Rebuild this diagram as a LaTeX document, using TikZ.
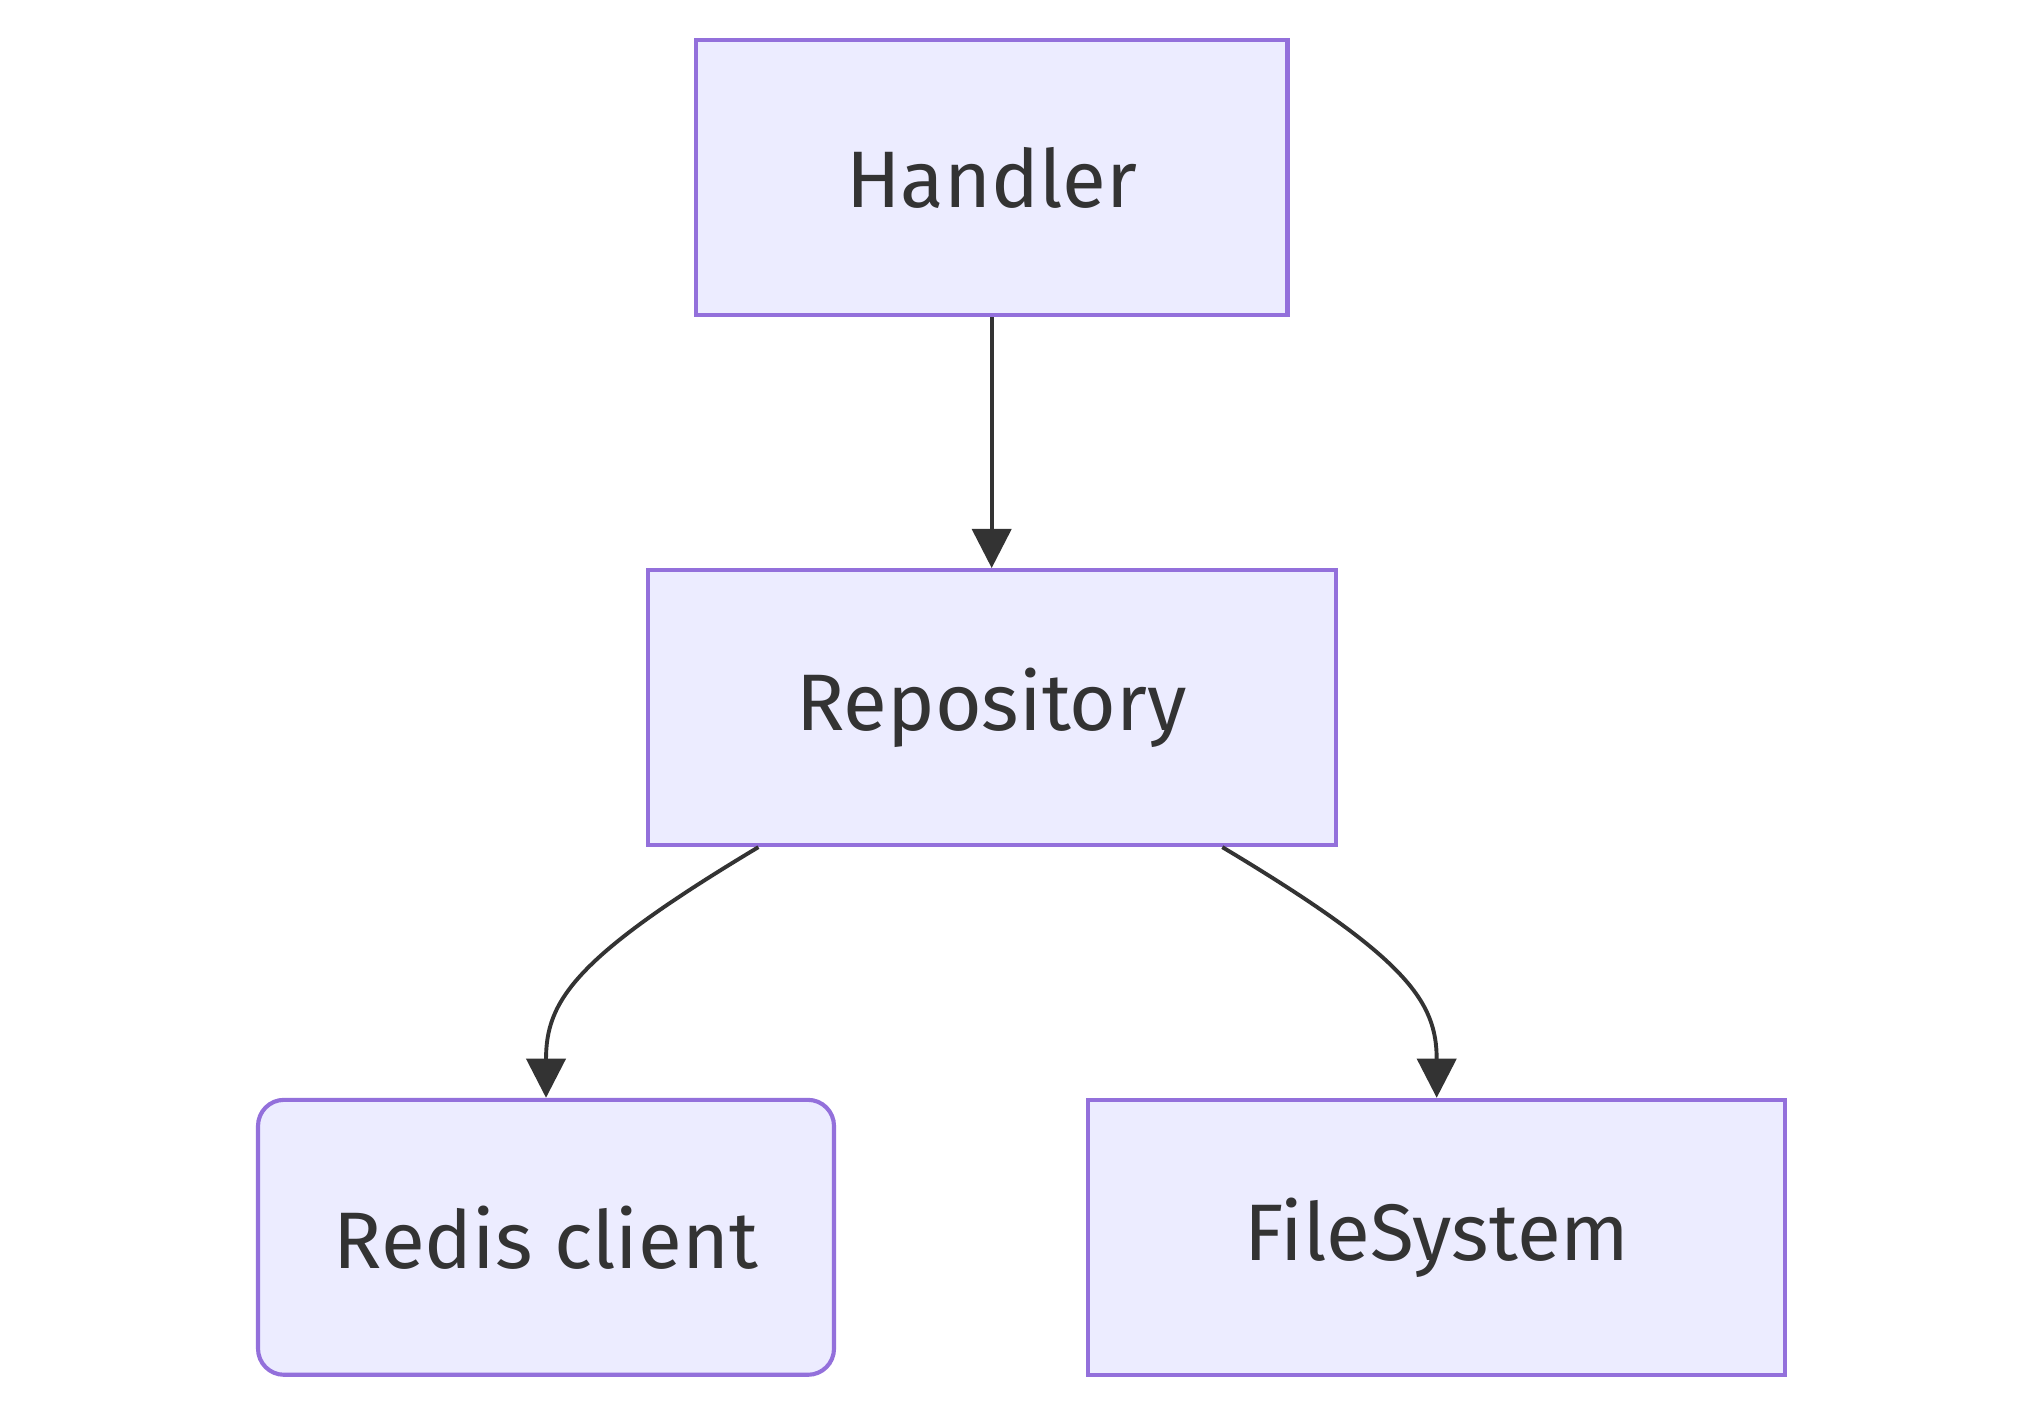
\documentclass[tikz,border=0pt]{standalone}
\usepackage{fontspec}
\setmainfont{Fira Sans}
\usetikzlibrary{arrows.meta}

\definecolor{boxfill}{HTML}{ECECFF}
\definecolor{boxline}{HTML}{9370DB}
\definecolor{edgeline}{HTML}{333333}
\definecolor{textgrey}{HTML}{333333}

\begin{document}
\begin{tikzpicture}[
        node distance=4.065cm,
        font=\fontsize{17.5}{21}\selectfont,
    ]
    \useasboundingbox (0,0) rectangle (15.67,-10.86);

    \tikzstyle{box} = [rectangle, minimum height=2.11cm, text centered,
                       draw=boxline, fill=boxfill, line width=0.9pt, text=textgrey]
    \tikzstyle{link} = [draw=edgeline, line width=0.85pt,
                        -{Triangle[length=0.3cm, width=0.3cm]}]
    % Nodes
    \node[box, minimum width=4.54cm] (handler) at (7.61,-1.365) {Handler};
    \node[box, minimum width=5.28cm, below of=handler] (repo) {Repository};
    \node[box, minimum width=4.42cm, rounded corners=0.2cm, below of=repo, xshift=-3.42cm] (redis) {Redis client};
    \node[box, minimum width=5.35cm, below of=repo, xshift=3.415cm] (fs) {FileSystem};

    % Arrows
    \draw[link] (handler) -- (repo);
    \draw[link] ([xshift=-1.79cm]repo.south) .. controls +(-1.42,-0.85) and +(0,0.74) .. (redis.north);
    \draw[link] ([xshift=1.77cm]repo.south) .. controls +(1.42,-0.85) and +(0,0.74) .. (fs.north);

    \end{tikzpicture}
\end{document}
